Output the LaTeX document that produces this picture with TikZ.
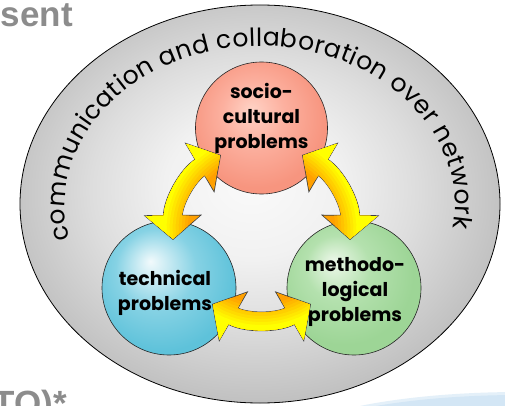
\documentclass[tikz,border=0pt]{standalone}
\usepackage{fontspec}
\setmainfont{Poppins}
\newfontfamily\slidefont{Liberation Sans}
\usetikzlibrary{arrows.meta,calc,shapes.geometric,decorations.text}

\definecolor{greyhi}{HTML}{FAFAFA}
\definecolor{greymid}{HTML}{DDDDDD}
\definecolor{greylo}{HTML}{BEBEBE}
\definecolor{redhi}{HTML}{FFD3C6}
\definecolor{redmid}{HTML}{FCB09F}
\definecolor{redlo}{HTML}{F7957F}
\definecolor{bluehi}{HTML}{F2FAFC}
\definecolor{bluemid}{HTML}{86D2E4}
\definecolor{bluelo}{HTML}{5EC2DA}
\definecolor{greenhi}{HTML}{EDF8EA}
\definecolor{greenmid}{HTML}{B4E1AE}
\definecolor{greenlo}{HTML}{9DD596}
\definecolor{arroworange}{HTML}{FFA000}
\definecolor{arrowyellow}{HTML}{FFFF00}
\definecolor{glowblue}{HTML}{D3E6F5}

\pgfdeclareradialshading{greyglow}{\pgfpoint{-1bp}{2.6bp}}{color(0bp)=(greyhi); color(9bp)=(greyhi!70!greymid); color(17bp)=(greymid); color(24bp)=(greylo!70!greymid); color(27bp)=(greylo); color(50bp)=(greylo)}
\pgfdeclareradialshading{redglow}{\pgfpoint{-4bp}{7bp}}{color(0bp)=(redhi); color(12bp)=(redmid); color(26bp)=(redlo); color(50bp)=(redlo)}
\pgfdeclareradialshading{blueglow}{\pgfpoint{-7bp}{10bp}}{color(0bp)=(bluehi); color(15bp)=(bluemid); color(28bp)=(bluelo); color(50bp)=(bluelo)}
\pgfdeclareradialshading{greenglow}{\pgfpoint{-8bp}{10bp}}{color(0bp)=(greenhi); color(12bp)=(greenmid); color(26bp)=(greenlo); color(50bp)=(greenlo)}

\newcommand\ringfont{\fontsize{25}{25}\selectfont}

\tikzset{
	problemball/.style={circle, draw=black!85, line width=0.6pt, minimum size=#1, inner sep=0pt, shade},
	problemtext/.style={font=\bfseries\fontsize{19}{25}\selectfont, align=center, inner sep=0pt},
	slidetext/.style={font=\slidefont\bfseries\fontsize{35}{35}\selectfont, text=black!45, inner sep=0pt},
	arrowedge/.style={line width=19.6pt, draw=black!75, {Triangle[width=57pt,length=25pt]}-{Triangle[width=57pt,length=25pt]}},
	arrowfill/.style={line width=18pt, draw=#1, shorten <=1.1pt, shorten >=1.1pt, {Triangle[width=53pt,length=23.1pt]}-{Triangle[width=53pt,length=23.1pt]}}
}

\begin{document}
\begin{tikzpicture}[x=1pt,y=1pt]
	\path[use as bounding box, fill=white] (0,0) rectangle (505,405);
	\node[slidetext, anchor=base east] (titlerest) at (73,378) {sent};
	\node[slidetext, anchor=base east] (footrest) at (67,-10) {TO)*};
	\fill[glowblue!60] (520,-45) ellipse (246 and 58);
	\fill[glowblue] (520,-45) ellipse (240 and 55);

	\node[ellipse, draw=black, line width=0.8pt, minimum width=480, minimum height=398, shading=greyglow, shade] (network) at (260,201) {};
	\path[decorate, decoration={text along path, text align={fit to path}, text={|\ringfont|communication and collaboration over network}}]
		(network.center) ++(0,-2) ++(192:195 and 160) arc[start angle=192, end angle=-8, x radius=195, y radius=160];

	\node[problemball=132, shading=redglow] (social) at (261.5,277) {};
	\node[problemball=134, shading=blueglow] (tech) at (169,117) {};
	\node[problemball=134, shading=greenglow] (method) at (354,117) {};
	\node[problemtext] (socialtext) at ([yshift=10]social.center) {socio-\\cultural\\problems};
	\node[problemtext] (techtext) at ([shift={(-4,-5)}]tech.center) {technical\\problems};
	\node[problemtext] (methodtext) at ([shift={(1,-4)}]method.center) {methodo-\\logical\\problems};

	\coordinate (sl) at ($(social)+(-40.5,-27)$);
	\coordinate (sr) at ($(social)+(40.5,-27)$);
	\coordinate (tu) at ($(tech)+(4,48)$);
	\coordinate (tr) at ($(tech)+(43,-16)$);
	\coordinate (mu) at ($(method)+(-4,48)$);
	\coordinate (ml) at ($(method)+(-43,-16)$);
	\coordinate (hub) at (261.5,175);

	\foreach \from/\to in {tu/sl, sr/mu, ml/tr}
		\draw[arrowedge] (\from) to[bend left=30] (\to);
	\foreach \from/\to in {tu/sl, sr/mu, ml/tr}
		\draw[arrowfill=arroworange] (\from) to[bend left=30] (\to);
	% orange inside, yellow outside
	\foreach \r/\mix in {74/12, 77/25, 80/37, 83/50, 86/62, 89/75, 92/87, 95/100} {
		\begin{scope}[even odd rule]
			\clip (0,0) rectangle (505,405) (hub) circle (\r);
			\foreach \from/\to in {tu/sl, sr/mu, ml/tr}
				\draw[arrowfill=arrowyellow!\mix!arroworange] (\from) to[bend left=30] (\to);
		\end{scope}
	}
\end{tikzpicture}
\end{document}
